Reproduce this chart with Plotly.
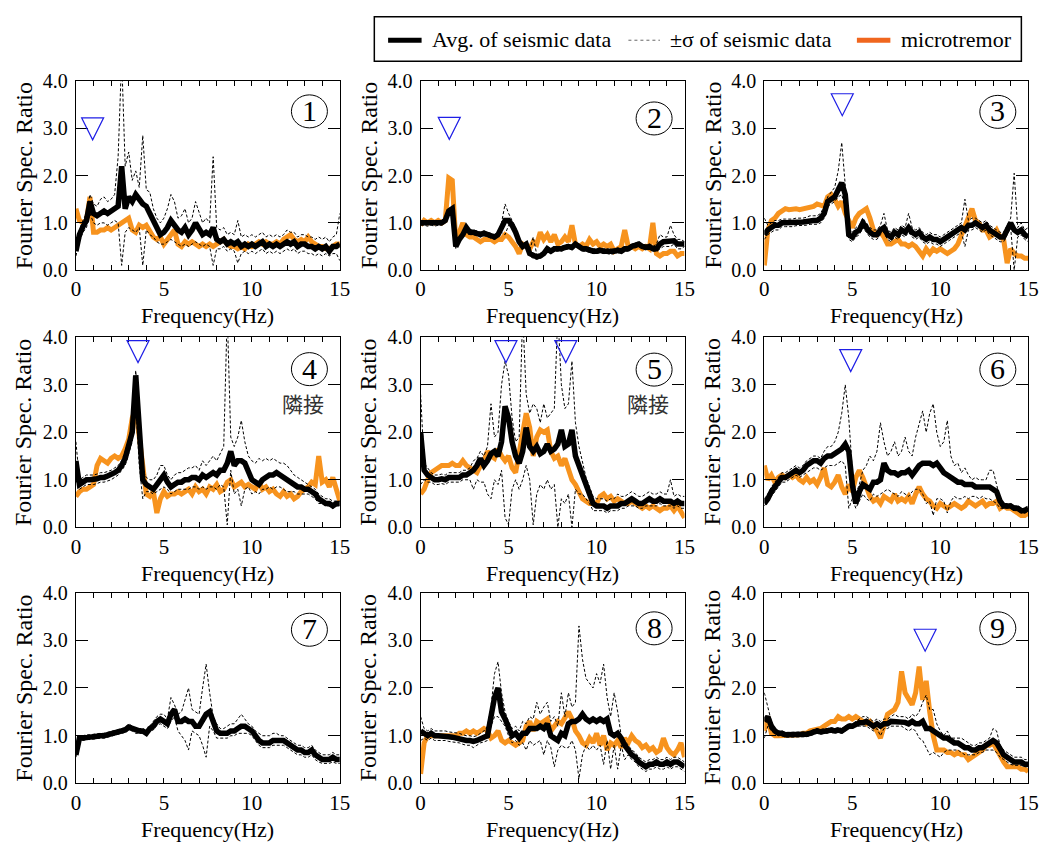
import plotly.graph_objects as go

W, H = 1056, 849
FONT = "Liberation Serif"

FREQ = [0.0, 0.2, 0.4, 0.6, 0.8, 1.0, 1.2, 1.4, 1.6, 1.8, 2.0, 2.2, 2.4, 2.6, 2.8,
        3.0, 3.2, 3.4, 3.6, 3.8, 4.0, 4.2, 4.4, 4.6, 4.8, 5.0, 5.2, 5.4, 5.6, 5.8,
        6.0, 6.2, 6.4, 6.6, 6.8, 7.0, 7.2, 7.4, 7.6, 7.8, 8.0, 8.2, 8.4, 8.6, 8.8,
        9.0, 9.2, 9.4, 9.6, 9.8, 10.0, 10.2, 10.4, 10.6, 10.8, 11.0, 11.2, 11.4, 11.6, 11.8,
        12.0, 12.2, 12.4, 12.6, 12.8, 13.0, 13.2, 13.4, 13.6, 13.8, 14.0, 14.2, 14.4, 14.6, 14.8,
        15.0]

# ---------------- Panel 1 ----------------
AVG_1 = [0.40,0.75,0.92,1.05,1.45, 1.20,1.15,1.20,1.25,1.20, 1.25,1.30,1.35,2.20,1.30,
         1.55,1.45,1.60,1.50,1.40, 1.35,1.20,1.00,0.85,0.75, 0.80,0.90,1.05,0.95,0.85,
         0.80,0.90,0.75,0.85,1.00, 0.85,0.75,0.80,0.75,0.90, 0.65,0.60,0.65,0.55,0.60,
         0.55,0.60,0.50,0.55,0.50, 0.55,0.50,0.55,0.60,0.50, 0.55,0.50,0.55,0.50,0.55,
         0.60,0.55,0.60,0.50,0.55, 0.55,0.50,0.50,0.45,0.50, 0.45,0.50,0.40,0.50,0.50, 0.55]
UP_1 = [0.50,0.85,1.05,1.20,1.60, 1.40,1.35,1.50,1.55,1.45, 1.50,1.60,2.40,4.50,2.20,
        2.50,1.90,2.10,1.75,2.85, 1.70,1.65,1.30,1.10,1.00, 1.10,1.30,1.60,1.45,1.10,
        1.15,1.30,1.00,1.10,1.45, 1.20,1.00,1.10,1.00,2.40, 0.90,0.85,0.90,0.75,0.80,
        0.75,1.05,0.70,0.75,0.70, 0.75,0.70,0.75,0.80,0.70, 0.75,0.70,0.75,0.70,0.75,
        0.85,0.80,0.80,0.70,0.75, 0.75,0.70,0.70,0.65,0.70, 0.65,0.70,0.60,0.70,0.75, 1.20]
LO_1 = [0.30,0.60,0.80,0.90,1.20, 1.00,0.95,1.00,1.00,0.95, 1.00,1.05,1.00,0.10,0.80,
        0.90,0.85,0.80,0.90,0.10, 0.85,0.75,0.70,0.60,0.55, 0.55,0.60,0.65,0.60,0.55,
        0.50,0.55,0.50,0.55,0.60, 0.55,0.50,0.55,0.50,0.10, 0.45,0.45,0.50,0.40,0.45,
        0.40,0.15,0.35,0.40,0.35, 0.40,0.35,0.40,0.45,0.35, 0.40,0.35,0.40,0.35,0.40,
        0.45,0.40,0.45,0.35,0.40, 0.40,0.35,0.35,0.30,0.35, 0.30,0.35,0.30,0.35,0.35, 0.20]
MIC_1 = [1.30,1.05,1.00,1.05,1.55, 0.80,0.80,0.85,0.85,0.90, 0.85,0.90,0.95,1.00,1.05,
         1.10,0.85,0.80,0.95,0.90, 0.95,0.80,0.70,0.65,0.70, 0.55,0.65,0.75,0.85,0.55,
         0.50,0.60,0.55,0.60,0.55, 0.50,0.55,0.50,0.55,0.50, 0.55,0.60,0.65,0.55,0.50,
         0.50,0.45,0.50,0.45,0.55, 0.50,0.55,0.60,0.55,0.60, 0.55,0.55,0.60,0.55,0.65,
         0.70,0.75,0.65,0.60,0.65, 0.60,0.70,0.60,0.55,0.50, 0.50,0.45,0.45,0.50,0.55, 0.55]

# ---------------- Panel 2 ----------------
AVG_2 = [1.00,1.00,0.98,1.00,0.98, 1.00,1.00,1.05,1.25,1.30, 0.50,0.65,0.75,0.90,0.80,
         0.80,0.78,0.75,0.78,0.75, 0.72,0.70,0.75,0.90,1.05, 1.05,0.95,0.80,0.60,0.50,
         0.55,0.35,0.30,0.28,0.30, 0.35,0.45,0.40,0.45,0.45, 0.45,0.48,0.50,0.48,0.55,
         0.50,0.45,0.45,0.42,0.40, 0.40,0.42,0.40,0.40,0.38, 0.40,0.42,0.40,0.45,0.45,
         0.50,0.52,0.55,0.50,0.48, 0.50,0.45,0.45,0.55,0.60, 0.60,0.60,0.62,0.55,0.55, 0.55]
UP_2 = [1.05,1.05,1.03,1.05,1.03, 1.05,1.05,1.10,1.30,1.35, 0.55,0.70,0.80,0.95,0.85,
        0.85,0.83,0.80,0.83,0.80, 0.77,0.75,0.80,1.00,1.40, 1.20,1.05,0.90,0.65,0.55,
        0.60,0.40,0.70,0.33,0.35, 0.40,0.50,0.45,0.50,0.50, 0.50,0.53,0.55,0.53,0.60,
        0.55,0.50,0.50,0.47,0.45, 0.45,0.47,0.45,0.45,0.43, 0.45,0.47,0.45,0.50,0.50,
        0.55,0.57,0.60,0.55,0.53, 0.55,0.50,0.55,0.75,0.70, 0.70,0.95,0.75,0.65,0.65, 0.60]
LO_2 = [0.95,0.95,0.93,0.95,0.93, 0.95,0.95,1.00,1.20,1.25, 0.45,0.60,0.70,0.85,0.75,
        0.75,0.73,0.70,0.73,0.70, 0.67,0.65,0.70,0.80,0.75, 0.95,0.90,0.75,0.55,0.45,
        0.50,0.30,0.25,0.23,0.25, 0.30,0.40,0.35,0.40,0.40, 0.40,0.43,0.45,0.43,0.50,
        0.45,0.40,0.40,0.37,0.35, 0.35,0.37,0.35,0.35,0.33, 0.35,0.37,0.35,0.40,0.40,
        0.45,0.47,0.50,0.45,0.43, 0.45,0.40,0.40,0.45,0.50, 0.50,0.50,0.55,0.45,0.45, 0.50]
MIC_2 = [0.95,1.05,1.00,1.05,1.00, 1.05,1.00,1.05,1.95,1.90, 0.60,0.80,1.00,0.75,0.70,
         0.70,0.65,0.60,0.65,0.65, 0.65,0.60,0.65,0.65,0.75, 0.70,0.60,0.50,0.35,0.55,
         0.50,0.45,0.60,0.55,0.80, 0.65,0.75,0.60,0.75,0.55, 0.60,0.70,0.60,0.95,0.55,
         0.50,0.55,0.50,0.65,0.55, 0.60,0.50,0.55,0.50,0.55, 0.40,0.45,0.50,0.85,0.50,
         0.50,0.45,0.50,0.45,0.50, 0.45,1.00,0.35,0.30,0.35, 0.35,0.40,0.40,0.30,0.35, 0.35]

# ---------------- Panel 3 ----------------
AVG_3 = [0.75,0.85,0.90,0.95,0.95, 1.00,1.00,1.00,1.00,1.02, 1.02,1.02,1.03,1.05,1.05,
         1.05,1.10,1.20,1.45,1.50, 1.55,1.70,1.85,1.60,0.75, 0.70,0.80,0.85,1.00,0.90,
         0.80,0.75,0.75,0.85,0.90, 0.75,0.70,0.80,0.75,0.85, 0.80,0.90,0.80,0.75,0.80,
         0.70,0.65,0.70,0.65,0.65, 0.60,0.65,0.70,0.75,0.80, 0.85,0.90,0.85,0.95,0.95,
         1.00,0.95,0.90,0.95,0.85, 0.80,0.75,0.70,0.70,0.85, 1.00,0.85,0.80,0.85,0.75, 0.70]
UP_3 = [1.10,0.95,1.00,1.05,1.05, 1.08,1.08,1.08,1.08,1.10, 1.10,1.10,1.12,1.15,1.15,
        1.15,1.20,1.35,1.55,1.65, 1.75,2.10,2.70,1.80,0.85, 0.80,0.90,0.95,1.10,1.00,
        0.90,0.85,0.85,0.95,1.20, 0.85,0.80,0.90,0.85,0.95, 0.90,1.20,0.90,0.85,0.90,
        0.80,0.75,0.80,0.75,0.75, 0.70,0.75,0.80,0.85,0.90, 0.95,1.00,1.50,1.05,1.10,
        1.10,1.05,1.00,1.05,0.95, 0.90,0.85,0.80,0.80,0.95, 1.10,2.05,0.90,1.00,0.85, 0.90]
LO_3 = [0.65,0.75,0.80,0.85,0.85, 0.92,0.92,0.92,0.92,0.94, 0.94,0.94,0.95,0.97,0.97,
        0.97,1.00,1.10,1.35,1.40, 1.45,1.55,1.60,1.30,0.65, 0.60,0.70,0.75,0.90,0.80,
        0.70,0.65,0.65,0.75,0.80, 0.65,0.60,0.70,0.65,0.75, 0.70,0.80,0.70,0.65,0.70,
        0.60,0.55,0.60,0.55,0.55, 0.50,0.55,0.60,0.65,0.70, 0.75,0.80,0.50,0.85,0.85,
        0.90,0.85,0.80,0.85,0.75, 0.70,0.65,0.60,0.60,0.75, 0.90,0.00,0.70,0.75,0.65, 0.60]
MIC_3 = [0.10,0.85,1.05,1.10,1.20, 1.25,1.30,1.28,1.30,1.30, 1.28,1.30,1.30,1.32,1.35,
         1.40,1.38,1.35,1.55,1.60, 1.50,1.35,1.45,1.20,1.05, 0.90,1.10,1.20,1.25,1.30,
         1.10,0.85,0.75,0.80,0.70, 0.55,0.55,0.60,0.65,0.55, 0.55,0.50,0.55,0.50,0.40,
         0.30,0.45,0.35,0.45,0.40, 0.45,0.40,0.35,0.40,0.45, 0.55,0.75,0.95,1.15,1.30,
         1.05,1.00,0.85,0.85,0.70, 0.75,0.85,0.70,0.65,0.15, 0.45,0.35,0.30,0.30,0.25, 0.25]

# ---------------- Panel 4 ----------------
AVG_4 = [1.40,0.90,0.95,1.00,1.00, 1.00,1.02,1.05,1.05,1.08, 1.10,1.15,1.20,1.30,1.45,
         1.70,2.00,3.20,2.00,1.00, 0.90,0.85,0.80,0.90,1.00, 1.10,0.95,0.85,0.90,0.95,
         0.95,1.00,1.00,1.05,1.05, 1.00,1.10,1.05,1.10,1.15, 1.10,1.20,1.20,1.35,1.60,
         1.30,1.40,1.40,1.35,1.20, 1.00,0.95,0.90,1.00,1.05, 1.10,1.10,1.15,1.10,1.05,
         1.00,0.95,0.90,0.85,0.85, 0.80,0.80,0.75,0.70,0.60, 0.55,0.50,0.50,0.45,0.50, 0.50]
UP_4 = [1.80,1.00,1.05,1.10,1.10, 1.10,1.12,1.15,1.15,1.18, 1.20,1.25,1.30,1.40,1.60,
        1.85,2.20,3.30,2.20,1.20, 1.05,1.00,1.00,1.10,1.30, 1.30,1.10,1.00,1.10,1.15,
        1.15,1.20,1.25,1.25,1.30, 1.20,1.40,1.30,1.40,1.50, 1.40,1.55,1.70,4.50,1.90,
        1.70,1.90,2.25,1.80,1.50, 1.40,1.35,1.45,1.40,1.45, 1.40,1.45,1.40,1.35,1.35,
        1.30,1.20,1.10,1.05,1.00, 0.95,0.90,0.85,0.80,0.70, 0.65,0.60,0.60,0.55,0.55, 0.55]
LO_4 = [1.00,0.80,0.85,0.90,0.90, 0.90,0.92,0.95,0.95,0.98, 1.00,1.05,1.10,1.20,1.30,
        1.55,1.80,2.60,1.30,0.60, 0.75,0.75,0.70,0.75,0.80, 0.85,0.80,0.70,0.75,0.80,
        0.80,0.80,0.80,0.85,0.85, 0.80,0.85,0.80,0.85,0.85, 0.80,0.90,0.85,0.05,1.20,
        0.70,0.80,0.45,0.80,0.85, 0.70,0.75,0.70,0.80,0.80, 0.85,0.80,0.85,0.85,0.80,
        0.75,0.75,0.75,0.70,0.70, 0.70,0.70,0.65,0.60,0.50, 0.50,0.45,0.45,0.40,0.45, 0.45]
MIC_4 = [0.65,0.75,0.80,0.80,0.85, 0.90,1.30,1.45,1.40,1.35, 1.45,1.50,1.45,1.50,1.65,
         1.85,2.30,2.50,1.90,1.20, 0.70,0.65,0.75,0.30,0.60, 0.75,0.65,0.70,0.70,0.75,
         0.70,0.75,0.80,0.70,0.85, 0.75,0.80,0.70,0.85,0.80, 0.90,0.75,0.80,0.95,1.00,
         0.85,0.90,0.95,0.85,0.90, 0.85,0.80,0.95,0.80,0.85, 0.75,0.80,0.70,0.65,0.75,
         0.65,0.70,0.60,0.65,0.75, 0.80,0.85,0.95,0.90,1.50, 0.95,1.00,0.85,1.05,0.80, 0.55]

# ---------------- Panel 5 ----------------
AVG_5 = [2.00,1.20,1.10,1.05,1.00, 1.00,1.02,1.00,1.05,1.05, 1.05,1.05,1.10,1.10,1.15,
         1.20,1.30,1.45,1.30,1.40, 1.55,1.60,1.50,1.80,2.55, 2.30,1.80,1.50,1.35,1.60,
         2.10,1.70,1.60,1.70,1.55, 1.60,1.75,1.60,1.65,1.75, 2.05,1.70,1.75,2.05,1.50,
         1.30,1.10,0.90,0.70,0.50, 0.45,0.45,0.45,0.40,0.45, 0.45,0.45,0.50,0.50,0.55,
         0.60,0.55,0.50,0.50,0.55, 0.60,0.55,0.55,0.60,0.55, 0.55,0.55,0.50,0.55,0.50, 0.50]
UP_5 = [2.80,1.35,1.25,1.15,1.10, 1.10,1.12,1.10,1.15,1.15, 1.15,1.15,1.20,1.20,1.25,
        1.40,1.45,1.60,1.50,1.70, 2.60,1.90,2.00,3.00,3.50, 3.20,2.30,1.80,1.90,4.50,
        2.80,2.40,2.60,2.50,2.20, 2.60,2.30,2.40,2.50,4.50, 3.00,2.50,2.60,3.50,2.20,
        1.70,1.40,1.05,0.85,0.65, 0.60,0.60,0.60,0.55,0.60, 0.60,0.70,0.65,0.65,0.70,
        0.75,0.70,0.65,0.65,0.70, 0.75,0.70,0.70,0.75,0.70, 0.70,1.00,0.65,0.70,0.65, 0.65]
LO_5 = [0.90,1.00,0.95,0.95,0.90, 0.90,0.92,0.90,0.95,0.95, 0.95,0.95,1.00,1.00,1.00,
        0.80,1.00,0.95,0.95,0.70, 0.60,1.00,0.90,1.20,0.20, 0.05,0.80,1.00,0.80,1.00,
        1.30,1.00,0.05,0.70,0.90, 0.80,1.00,0.80,0.90,0.00, 0.60,0.50,0.70,0.00,0.80,
        0.70,0.70,0.60,0.50,0.35, 0.35,0.35,0.35,0.30,0.35, 0.35,0.35,0.40,0.40,0.45,
        0.45,0.45,0.40,0.40,0.45, 0.45,0.45,0.45,0.50,0.45, 0.45,0.45,0.40,0.45,0.40, 0.40]
MIC_5 = [0.70,0.80,1.00,1.15,1.20, 1.25,1.30,1.30,1.30,1.35, 1.30,1.30,1.40,1.30,1.25,
         1.20,1.15,1.30,1.40,1.60, 1.50,1.45,1.65,1.50,1.40, 1.50,1.25,1.15,1.60,2.00,
         2.40,2.10,1.50,1.90,2.05, 2.00,2.05,1.60,1.45,1.50, 1.30,1.45,1.20,1.00,0.90,
         0.75,0.60,0.55,0.50,0.50, 0.50,0.65,0.70,0.60,0.65, 0.55,0.60,0.55,0.50,0.50,
         0.55,0.50,0.45,0.40,0.45, 0.40,0.45,0.40,0.35,0.40, 0.40,0.45,0.35,0.45,0.30, 0.20]

# ---------------- Panel 6 ----------------
AVG_6 = [0.50,0.60,0.75,0.85,0.95, 1.05,1.05,1.10,1.15,1.20, 1.15,1.20,1.30,1.35,1.40,
         1.40,1.35,1.45,1.50,1.50, 1.55,1.60,1.65,1.75,1.60, 0.90,0.50,0.75,0.90,0.85,
         0.80,0.95,0.95,1.00,1.35, 1.20,1.15,1.15,1.10,1.15, 1.15,1.20,1.10,1.20,1.30,
         1.35,1.35,1.35,1.30,1.35, 1.25,1.15,1.10,1.05,1.00, 0.95,0.95,0.90,0.90,0.90,
         0.85,0.85,0.85,0.85,0.85, 0.80,0.75,0.55,0.45,0.45, 0.45,0.40,0.40,0.35,0.35, 0.40]
UP_6 = [0.60,0.70,0.85,0.95,1.05, 1.15,1.15,1.20,1.25,1.30, 1.25,1.30,1.40,1.45,1.50,
        1.50,1.45,1.60,1.70,1.70, 1.80,2.00,2.40,3.00,2.30, 1.20,0.70,0.90,1.20,1.30,
        1.50,1.40,1.60,2.20,1.80, 1.50,1.60,1.80,1.50,1.60, 1.90,1.60,1.50,1.90,2.20,
        2.45,2.00,2.40,2.60,2.00, 1.70,1.80,2.25,1.50,1.30, 1.35,1.15,1.25,1.10,1.00,
        1.05,1.00,1.00,1.00,1.20, 1.20,0.90,0.60,0.50,0.50, 0.50,0.45,0.45,0.40,0.40, 0.45]
LO_6 = [0.45,0.55,0.65,0.75,0.85, 0.95,0.95,1.00,1.05,1.10, 1.05,1.10,1.15,1.20,1.25,
        1.25,1.20,1.25,1.30,1.30, 1.30,1.35,1.40,1.30,0.40, 0.60,0.40,0.55,0.70,0.60,
        0.55,0.70,0.65,0.70,0.75, 0.80,0.75,0.70,0.65,0.75, 0.70,0.65,0.75,0.80,0.80,
        0.70,0.50,0.55,0.25,0.60, 0.60,0.55,0.30,0.55,0.65, 0.60,0.60,0.65,0.60,0.65,
        0.65,0.60,0.65,0.60,0.60, 0.55,0.50,0.40,0.40,0.40, 0.40,0.35,0.35,0.30,0.30, 0.35]
MIC_6 = [1.30,1.00,1.10,0.95,1.05, 1.10,1.05,1.10,1.05,1.10, 1.00,0.95,1.05,0.95,1.00,
         0.90,1.05,1.25,0.90,0.85, 0.95,1.10,0.85,0.70,0.90, 0.75,1.05,1.20,1.05,0.85,
         0.65,0.55,0.60,0.50,0.65, 0.60,0.55,0.70,0.55,0.60, 0.55,0.65,0.50,0.70,0.85,
         0.70,0.60,0.55,0.45,0.40, 0.50,0.45,0.40,0.45,0.50, 0.45,0.40,0.45,0.55,0.50,
         0.45,0.50,0.55,0.45,0.50, 0.50,0.55,0.40,0.45,0.40, 0.40,0.35,0.30,0.25,0.25, 0.30]

# ---------------- Panel 7 (no microtremor) ----------------
AVG_7 = [0.60,0.95,0.95,0.97,0.97, 0.98,1.00,1.00,1.00,1.02, 1.05,1.07,1.08,1.10,1.12,
         1.18,1.15,1.10,1.10,1.10, 1.05,1.15,1.20,1.30,1.35, 1.30,1.25,1.45,1.55,1.30,
         1.30,1.35,1.30,1.30,1.20, 1.20,1.35,1.45,1.50,1.25, 1.10,1.05,1.05,1.05,1.10,
         1.10,1.15,1.20,1.20,1.15, 1.10,1.00,0.90,0.85,0.85, 0.85,0.90,0.90,0.90,0.90,
         0.85,0.80,0.75,0.70,0.70, 0.65,0.65,0.70,0.60,0.55, 0.50,0.50,0.50,0.55,0.50, 0.50]
UP_7 = [0.65,1.00,1.00,1.02,1.02, 1.03,1.05,1.05,1.05,1.07, 1.10,1.12,1.13,1.15,1.17,
        1.25,1.20,1.15,1.15,1.15, 1.10,1.20,1.30,1.40,1.45, 1.45,1.35,1.80,1.65,1.45,
        1.50,1.75,2.00,1.55,1.50, 1.45,2.00,2.50,1.90,1.40, 1.25,1.15,1.15,1.20,1.25,
        1.25,1.35,1.45,1.35,1.25, 1.20,1.10,1.05,1.00,1.00, 1.00,1.05,1.05,1.00,1.00,
        0.95,0.90,0.85,0.80,0.80, 0.75,0.75,0.80,0.70,0.65, 0.60,0.60,0.60,0.65,0.60, 0.60]
LO_7 = [0.55,0.90,0.90,0.92,0.92, 0.93,0.95,0.95,0.95,0.97, 1.00,1.02,1.03,1.05,1.07,
        1.12,1.10,1.05,1.05,1.05, 1.00,1.10,1.12,1.22,1.25, 1.20,1.15,1.30,1.40,1.10,
        1.00,0.90,0.70,1.10,1.05, 1.00,0.80,0.55,1.20,1.10, 0.95,0.95,0.95,0.95,1.00,
        1.00,1.05,1.05,1.05,1.05, 1.00,0.90,0.80,0.75,0.75, 0.75,0.80,0.80,0.80,0.80,
        0.75,0.70,0.65,0.60,0.60, 0.55,0.55,0.60,0.50,0.45, 0.42,0.42,0.42,0.45,0.42, 0.42]
MIC_7 = None

# ---------------- Panel 8 ----------------
AVG_8 = [1.10,1.05,1.00,1.05,1.00, 1.00,1.00,1.00,0.98,0.97, 0.95,0.95,0.92,0.90,0.90,
         0.88,0.90,0.95,0.97,1.00, 1.40,1.80,2.00,1.50,1.35, 1.15,1.00,1.05,0.95,1.05,
         1.05,1.15,1.15,1.15,1.20, 1.15,1.25,1.00,0.95,0.90, 1.05,1.00,1.25,1.30,1.30,
         1.35,1.45,1.35,1.30,1.35, 1.30,1.35,1.30,1.35,1.05, 1.00,1.05,0.95,0.80,0.70,
         0.60,0.55,0.45,0.40,0.35, 0.40,0.40,0.45,0.40,0.40, 0.45,0.40,0.45,0.45,0.40, 0.35]
UP_8 = [1.40,1.15,1.10,1.15,1.10, 1.10,1.10,1.10,1.08,1.07, 1.05,1.05,1.02,1.00,1.00,
        0.98,1.00,1.05,1.10,1.20, 1.60,2.30,2.55,1.90,1.50, 1.30,1.15,1.20,1.10,1.30,
        1.25,1.40,1.35,1.70,1.45, 1.60,1.70,1.30,1.40,1.20, 1.90,1.40,1.90,1.60,1.70,
        3.30,2.60,2.20,2.10,2.00, 2.30,2.10,2.50,1.80,1.40, 1.90,1.50,1.00,0.90,0.80,
        0.70,0.65,0.55,0.50,0.45, 0.50,0.50,0.55,0.50,0.50, 0.55,0.50,0.55,0.55,0.50, 0.45]
LO_8 = [0.90,0.95,0.90,0.95,0.90, 0.90,0.90,0.90,0.88,0.87, 0.85,0.85,0.82,0.80,0.80,
        0.75,0.80,0.85,0.87,0.90, 1.20,1.40,1.40,1.30,1.20, 1.00,0.85,0.90,0.80,0.85,
        0.70,0.90,0.80,0.85,0.90, 0.60,0.90,0.75,0.35,0.70, 0.80,0.75,0.75,0.90,0.70,
        0.10,0.60,0.80,0.70,0.80, 0.70,0.80,0.40,0.90,0.30, 0.80,0.30,0.80,0.50,0.60,
        0.50,0.45,0.35,0.30,0.25, 0.30,0.30,0.35,0.30,0.30, 0.35,0.30,0.35,0.35,0.30, 0.25]
MIC_8 = [0.20,0.85,1.00,1.00,1.00, 1.00,1.00,1.00,1.00,1.00, 1.00,1.05,1.05,1.10,1.05,
         1.10,1.05,1.10,1.15,1.10, 0.95,1.00,1.10,0.90,0.85, 0.90,0.85,0.80,0.85,0.90,
         1.20,1.30,1.10,1.30,1.25, 1.30,1.35,1.10,1.20,1.30, 1.25,1.40,1.50,1.35,1.10,
         1.00,0.85,0.80,0.95,0.85, 1.05,0.80,1.00,0.70,0.85, 0.80,0.90,0.75,0.95,0.85,
         1.00,0.90,0.85,0.75,0.80, 0.70,0.75,0.65,0.70,0.95, 0.75,0.65,0.60,0.70,0.85, 0.55]

# ---------------- Panel 9 ----------------
AVG_9 = [1.30,1.40,1.20,1.10,1.05, 1.05,1.02,1.02,1.02,1.02, 1.02,1.02,1.03,1.05,1.07,
         1.10,1.08,1.10,1.10,1.12, 1.10,1.12,1.10,1.15,1.20, 1.20,1.25,1.27,1.27,1.30,
         1.25,1.20,1.25,1.20,1.25, 1.25,1.30,1.30,1.30,1.30, 1.28,1.25,1.30,1.25,1.25,
         1.30,1.15,1.15,1.10,1.05, 1.00,0.95,0.95,0.90,0.85, 0.85,0.80,0.75,0.75,0.70,
         0.70,0.75,0.75,0.80,0.85, 0.90,0.85,0.70,0.60,0.55, 0.50,0.45,0.45,0.45,0.40, 0.40]
UP_9 = [1.90,1.60,1.30,1.15,1.10, 1.10,1.07,1.07,1.07,1.07, 1.07,1.07,1.08,1.10,1.12,
        1.15,1.13,1.15,1.15,1.17, 1.15,1.17,1.15,1.20,1.25, 1.25,1.30,1.35,1.40,1.40,
        1.35,1.30,1.35,1.30,1.35, 1.35,1.40,1.45,1.40,1.40, 1.40,1.35,1.45,1.40,1.50,
        1.70,1.85,1.55,1.55,1.25, 1.10,1.00,1.10,0.95,0.95, 0.95,0.95,0.90,0.85,0.80,
        0.80,0.85,0.85,0.90,0.95, 1.15,1.10,0.80,0.70,0.65, 0.60,0.55,0.55,0.55,0.50, 0.50]
LO_9 = [0.95,1.20,1.10,1.05,1.00, 1.00,0.97,0.97,0.97,0.97, 0.97,0.97,0.98,1.00,1.02,
        1.05,1.03,1.05,1.05,1.07, 1.05,1.07,1.05,1.10,1.15, 1.15,1.20,1.20,1.20,1.20,
        1.15,1.10,1.15,1.00,1.15, 1.15,1.20,1.20,1.20,1.20, 1.15,1.10,1.15,1.10,0.95,
        0.90,0.75,0.60,0.65,0.60, 0.55,0.65,0.70,0.70,0.70, 0.70,0.65,0.60,0.60,0.60,
        0.60,0.65,0.65,0.70,0.70, 0.70,0.65,0.55,0.50,0.45, 0.40,0.38,0.38,0.38,0.35, 0.35]
MIC_9 = [1.10,1.40,1.05,1.00,1.00, 1.00,1.00,1.00,1.00,1.00, 1.02,1.05,1.05,1.10,1.12,
         1.15,1.15,1.20,1.25,1.30, 1.30,1.40,1.35,1.35,1.40, 1.35,1.40,1.35,1.30,1.25,
         1.30,1.20,1.10,0.95,1.25, 1.45,1.50,1.55,1.70,2.35, 1.90,1.75,1.65,1.90,2.45,
         1.75,2.15,1.50,1.00,0.70, 0.70,0.70,0.65,0.65,0.60, 0.65,0.60,0.60,0.50,0.55,
         0.60,0.65,0.70,0.80,0.80, 0.85,0.70,0.55,0.45,0.35, 0.35,0.35,0.35,0.30,0.30, 0.25]

# Peak markers (inverted triangles): panel number, frequency, height
PEAK_PANEL = [1, 2, 3, 4, 5, 5, 6, 9]
PEAK_FREQ = [0.95, 1.63, 4.43, 3.53, 4.85, 8.25, 4.91, 9.14]
PEAK_Y = [2.99, 3.00, 3.50, 3.70, 3.70, 3.70, 3.51, 3.00]

PANEL_LABELS = ["1", "2", "3", "4", "5", "6", "7", "8", "9"]
LABEL_Y = [3.36, 3.21, 3.35, 3.33, 3.32, 3.32, 3.22, 3.25, 3.25]
NOTE_PANELS = [4, 5]
NOTE_TEXT = "隣接"

Y_TITLES = ["Fourier Spec. Ratio"] * 8 + ["Frourier Spec. Ratio"]
X_TITLE = "Frequency(Hz)"
X_TICKS = list(range(16))
X_TICKTEXT = ["0", "", "", "", "", "5", "", "", "", "", "10", "", "", "", "", "15"]
Y_TICKS = [0, 1, 2, 3, 4]
Y_TICKTEXT = ["0.0", "1.0", "2.0", "3.0", "4.0"]

LEGEND_NAMES = ["Avg. of seismic data", "±σ of seismic data", "microtremor"]

AVGS = [AVG_1, AVG_2, AVG_3, AVG_4, AVG_5, AVG_6, AVG_7, AVG_8, AVG_9]
UPS = [UP_1, UP_2, UP_3, UP_4, UP_5, UP_6, UP_7, UP_8, UP_9]
LOS = [LO_1, LO_2, LO_3, LO_4, LO_5, LO_6, LO_7, LO_8, LO_9]
MICS = [MIC_1, MIC_2, MIC_3, MIC_4, MIC_5, MIC_6, MIC_7, MIC_8, MIC_9]

ORANGE = "#F7931E"
LEG_ORANGE = "#F0661E"
BLUE = "#1F1FE6"

# pixel geometry of the plot areas
COL_PX = [(72, 340), (422, 690), (771, 1039)]
ROW_PX = [(72, 266), (335, 530), (597, 793)]


def px(x):
    return x / W


def py(y):
    return 1 - y / H


fig = go.Figure()
layout = dict(
    width=W, height=H, margin=dict(l=0, r=0, t=0, b=0),
    paper_bgcolor="white", plot_bgcolor="white",
    font=dict(family=FONT, color="black", size=20),
    showlegend=False,
)
shapes = []
annotations = []

for i in range(9):
    r, c = divmod(i, 3)
    n = i + 1
    xs = "" if n == 1 else str(n)
    xl, xr = COL_PX[c]
    yt, yb = ROW_PX[r]
    layout["xaxis" + xs] = dict(
        domain=[px(xl), px(xr)], anchor="y" + xs, range=[0, 15],
        tickvals=X_TICKS, ticktext=X_TICKTEXT, ticks="inside", ticklen=5, tickwidth=1,
        tickcolor="black", showline=True, linecolor="black", linewidth=1.2, mirror="ticks",
        showgrid=False, zeroline=False, tickfont=dict(size=21, family=FONT),
        ticklabelstandoff=0)
    layout["yaxis" + xs] = dict(
        domain=[py(yb), py(yt)], anchor="x" + xs, range=[0, 4],
        tickvals=Y_TICKS, ticktext=Y_TICKTEXT, ticks="inside", ticklen=12, tickwidth=1,
        tickcolor="black", showline=True, linecolor="black", linewidth=1.2, mirror="ticks",
        showgrid=False, zeroline=False, tickfont=dict(size=20, family=FONT),
        ticklabelstandoff=3)

    if MICS[i] is not None:
        fig.add_trace(go.Scatter(x=FREQ, y=MICS[i], mode="lines", xaxis="x" + xs, yaxis="y" + xs,
                                 line=dict(color=ORANGE, width=5), hoverinfo="skip"))
    for s in (UPS[i], LOS[i]):
        fig.add_trace(go.Scatter(x=FREQ, y=s, mode="lines", xaxis="x" + xs, yaxis="y" + xs,
                                 line=dict(color="black", width=1, dash="3px,2px"),
                                 hoverinfo="skip"))
    fig.add_trace(go.Scatter(x=FREQ, y=AVGS[i], mode="lines", xaxis="x" + xs, yaxis="y" + xs,
                             line=dict(color="black", width=5.5), hoverinfo="skip"))

    # axis titles
    annotations.append(dict(text=X_TITLE, xref="paper", yref="paper", x=px((xl + xr) / 2),
                            y=py(yb + 47), showarrow=False,
                            font=dict(family=FONT, size=22), xanchor="center", yanchor="middle"))
    annotations.append(dict(text=Y_TITLES[i], xref="paper", yref="paper", x=px(xl - 53),
                            y=py((yt + yb) / 2), showarrow=False, textangle=-90,
                            font=dict(family=FONT, size=24), xanchor="center", yanchor="middle"))
    # circled panel number
    shapes.append(dict(type="circle", xref="x" + xs, yref="y" + xs, xsizemode="pixel",
                       ysizemode="pixel", xanchor=13.27, yanchor=LABEL_Y[i],
                       x0=-18, x1=18, y0=-16.5, y1=16.5, line=dict(color="black", width=1)))
    annotations.append(dict(text=PANEL_LABELS[i], xref="x" + xs, yref="y" + xs, x=13.27,
                            y=LABEL_Y[i], showarrow=False, yshift=1,
                            font=dict(family=FONT, size=30), xanchor="center", yanchor="middle"))
    if n in NOTE_PANELS:
        annotations.append(dict(text=NOTE_TEXT, xref="x" + xs, yref="y" + xs, x=12.9, y=2.62,
                                showarrow=False,
                                font=dict(family="Noto Sans CJK JP", size=21, color="#333333"),
                                xanchor="center", yanchor="middle"))

for p, f, v in zip(PEAK_PANEL, PEAK_FREQ, PEAK_Y):
    xs = "" if p == 1 else str(p)
    shapes.append(dict(type="path", xref="x" + xs, yref="y" + xs, xsizemode="pixel",
                       ysizemode="pixel", xanchor=f, yanchor=v,
                       path="M -11 11 L 11 11 L 0 -11 Z", line=dict(color=BLUE, width=1.2)))

# ---- legend box (drawn manually for exact placement) ----
shapes.append(dict(type="rect", xref="paper", yref="paper", x0=px(375), x1=px(1032),
                   y0=py(51.5), y1=py(6), line=dict(color="black", width=1.5),
                   fillcolor="white", layer="above"))
LEG_SAMPLES = [(389, 423, "black", 5, "solid"), (633, 665, "#666666", 1, "dot"),
               (865, 899, LEG_ORANGE, 5, "solid")]
LEG_TEXT_X = [432, 673, 908]
for (x0, x1, col, wd, ds), tx, name in zip(LEG_SAMPLES, LEG_TEXT_X, LEGEND_NAMES):
    shapes.append(dict(type="line", xref="paper", yref="paper", x0=px(x0), x1=px(x1),
                       y0=py(30), y1=py(30), line=dict(color=col, width=wd, dash=ds),
                       layer="above"))
    annotations.append(dict(text=name, xref="paper", yref="paper", x=px(tx), y=py(29),
                            showarrow=False, xanchor="left", yanchor="middle",
                            font=dict(family=FONT, size=22, color="black")))

layout["shapes"] = shapes
layout["annotations"] = annotations
fig.update_layout(**layout)
fig.write_html("out.html",
               post_script="document.body.style.margin='0';"
                           "document.documentElement.style.overflow='hidden';")
